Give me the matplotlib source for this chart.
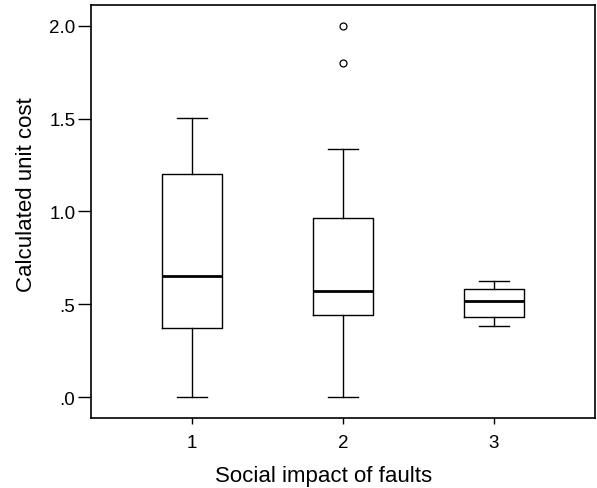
import matplotlib.pyplot as plt

plt.rcParams['font.family'] = ['Liberation Sans', 'DejaVu Sans']

# Valores
grupos = ['1', '2', '3']
minimos = [0.0, 0.0, 0.382]
q1 = [0.371, 0.442, 0.430]
medianas = [0.652, 0.573, 0.518]
q3 = [1.199, 0.966, 0.582]
maximos = [1.502, 1.335, 0.625]
outliers = [[], [1.80, 2.00], []]

estatisticas = []
for i in range(len(grupos)):
    estatisticas.append({
        'label': grupos[i],
        'whislo': minimos[i],
        'q1': q1[i],
        'med': medianas[i],
        'q3': q3[i],
        'whishi': maximos[i],
        'fliers': outliers[i],
    })

fig = plt.figure(figsize=(5.97, 4.89), dpi=100)
ax = fig.add_axes([0.152, 0.143, 0.845, 0.845])

ax.bxp(
    estatisticas,
    widths=0.40,
    boxprops=dict(color='black', linewidth=1),
    whiskerprops=dict(color='black', linewidth=1),
    capprops=dict(color='black', linewidth=1),
    medianprops=dict(color='black', linewidth=2),
    flierprops=dict(marker='o', markersize=5, markerfacecolor='white',
                    markeredgecolor='black', markeredgewidth=0.9),
    capwidths=0.20,
)

ax.set_xlim(0.33, 3.67)
ax.set_ylim(-0.112, 2.112)
ax.set_yticks([0.0, 0.5, 1.0, 1.5, 2.0])
ax.set_yticklabels(['.0', '.5', '1.0', '1.5', '2.0'])

ax.tick_params(axis='y', length=9.5, width=1, pad=1.5, labelsize=13.5)
ax.tick_params(axis='x', length=4.5, width=1, pad=7, labelsize=13.5)
for lado in ax.spines.values():
    lado.set_linewidth(1.2)

ax.set_xlabel('Social impact of faults', fontsize=16)
ax.set_ylabel('Calculated unit cost', fontsize=16)
# rótulos um pouco deslocados, como no original
ax.xaxis.set_label_coords(0.4616, -0.114)
ax.yaxis.set_label_coords(-0.106, 0.544)

fig.savefig('out.png', dpi=100)
